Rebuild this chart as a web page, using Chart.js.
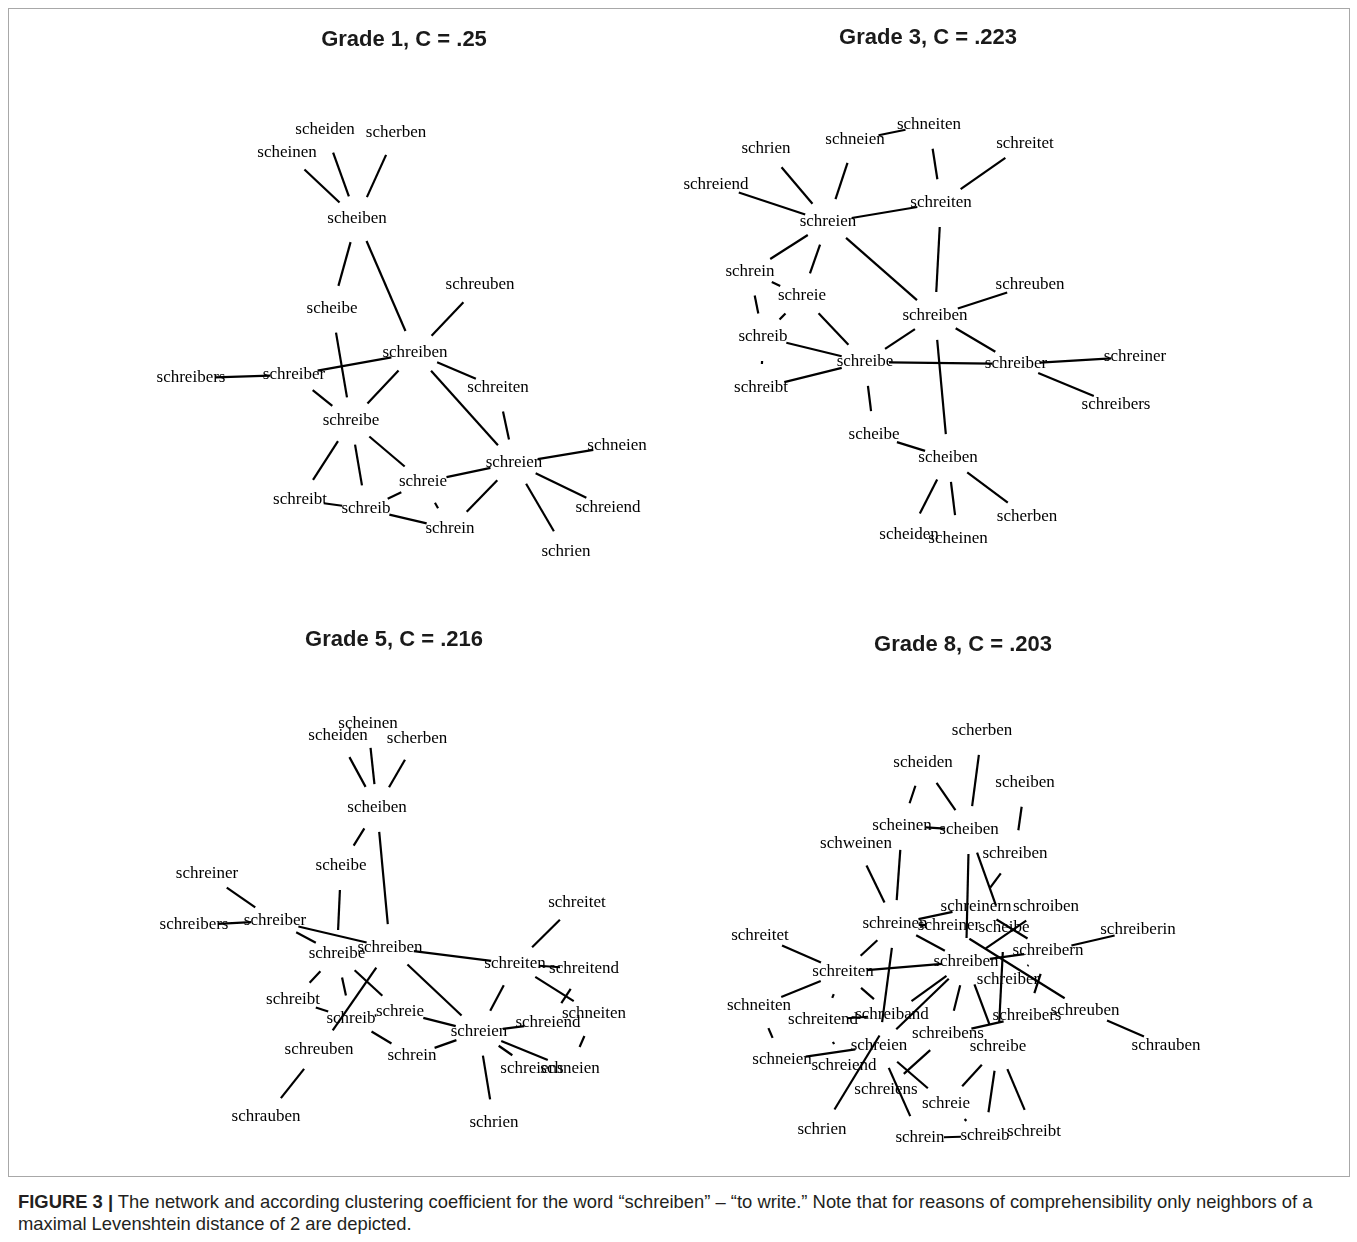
<!DOCTYPE html>
<html>
<head>
<meta charset="utf-8">
<script src="https://cdn.jsdelivr.net/npm/chart.js@4.4.0/dist/chart.umd.min.js"></script>
<style>
body{margin:0;background:#fff;}
#fig{position:relative;width:1357px;height:1242px;overflow:hidden;}
#frame{position:absolute;left:8px;top:8px;width:1340px;height:1167px;border:1px solid #a8a8a8;}
canvas{position:absolute;}
#caption{position:absolute;left:18px;top:1191px;font-family:"Liberation Sans",Arial,sans-serif;font-size:18.4px;line-height:22px;color:#231f20;white-space:nowrap;}
</style>
</head>
<body>
<div id="fig">
<div id="frame"></div>
<canvas id="g1" width="800" height="592" style="left:4px;top:8px"></canvas>
<canvas id="g3" width="520" height="594" style="left:668px;top:6px"></canvas>
<canvas id="g5" width="780" height="562" style="left:4px;top:608px"></canvas>
<canvas id="g8" width="520" height="557" style="left:703px;top:613px"></canvas>
<div id="caption"><b>FIGURE 3 |</b> The network and according clustering coefficient for the word “schreiben” – “to write.” Note that for reasons of comprehensibility only neighbors of a<br>maximal Levenshtein distance of 2 are depicted.</div>
</div>
<script>
// Grade 1
var g1Title = "Grade 1, C = .25";
var g1Words = ["scheiden","scherben","scheinen","scheiben","scheibe","schreuben","schreiben","schreibers","schreiber","schreiten","schreibe","schneien","schreien","schreie","schreibt","schreib","schreiend","schrein","schrien"];
var g1X = [325,396,287,357,332,480,415,191,294,498,351,617,514,423,300,366,608,450,566];
var g1Y = [130,133,153,219,309,285,353,378,375,388,421,446,463,482,500,509,508,529,552];
var g1Links = [
	["scheiben","scheinen"],["scheiben","scheiden"],["scheiben","scherben"],["scheiben","scheibe"],["scheiben","schreiben"],
	["scheibe","schreibe"],["schreibers","schreiber"],["schreiber","schreiben"],["schreiber","schreibe"],
	["schreiben","schreibe"],["schreiben","schreuben"],["schreiben","schreiten"],["schreiben","schreien"],
	["schreibe","schreibt"],["schreibe","schreib"],["schreibe","schreie"],["schreibt","schreib"],
	["schreib","schreie"],["schreib","schrein"],["schreie","schrein"],["schreie","schreien"],
	["schreiten","schreien"],["schreien","schneien"],["schreien","schrein"],["schreien","schreiend"],["schreien","schrien"]
];

// Grade 3
var g3Title = "Grade 3, C = .223";
var g3Words = ["schneiten","schneien","schreitet","schrien","schreiend","schreiten","schreien","schrein","schreuben","schreie","schreiben","schreib","schreiner","schreibe","schreiber","schreibt","schreibers","scheibe","scheiben","scherben","scheiden","scheinen"];
var g3X = [929,855,1025,766,716,941,828,750,1030,802,935,763,1135,865,1016,761,1116,874,948,1027,909,958];
var g3Y = [125,140,144,149,185,203,222,272,285,296,316,337,357,362,364,388,405,435,458,517,535,539];
var g3Links = [
	["schneien","schneiten"],["schneiten","schreiten"],["schreitet","schreiten"],["schreien","schrien"],["schreien","schneien"],
	["schreiend","schreien"],["schreien","schreiten"],["schreien","schrein"],["schreien","schreie"],["schreien","schreiben"],
	["schrein","schreie"],["schrein","schreib"],["schreie","schreib"],["schreie","schreibe"],["schreib","schreibe"],
	["schreib","schreibt"],["schreibt","schreibe"],["schreiben","schreibe"],["schreibe","schreiber"],["schreiten","schreiben"],
	["schreiben","schreuben"],["schreiben","schreiber"],["schreiben","scheiben"],["schreiber","schreiner"],["schreiber","schreibers"],
	["scheibe","scheiben"],["schreibe","scheibe"],["scheiben","scheiden"],["scheiben","scheinen"],["scheiben","scherben"]
];

// Grade 5
var g5Title = "Grade 5, C = .216";
var g5Words = ["scheinen","scheiden","scherben","scheiben","scheibe","schreiner","schreitet","schreiber","schreibers","schreiben","schreibe","schreiten","schreitend","schreibt","schreie","schneiten","schreib","schreiend","schreien","schreuben","schrein","schreiens","schneien","schrauben","schrien"];
var g5X = [368,338,417,377,341,207,577,275,194,390,337,515,584,293,400,594,351,548,479,319,412,532,570,266,494];
var g5Y = [724,736,739,808,866,874,903,921,925,948,954,964,969,1000,1012,1014,1019,1023,1032,1050,1056,1069,1069,1117,1123];
var g5Links = [
	["scheiden","scheiben"],["scheinen","scheiben"],["scherben","scheiben"],["scheiben","scheibe"],["scheiben","schreiben"],
	["scheibe","schreibe"],["schreiner","schreiber"],["schreibers","schreiber"],["schreiber","schreiben"],["schreiber","schreibe"],
	["schreibe","schreibt"],["schreibe","schreib"],["schreibe","schreie"],["schreiben","schreuben"],["schreibt","schreib"],
	["schreib","schreie"],["schreib","schrein"],["schreuben","schrauben"],["schreie","schreien"],["schreiben","schreien"],
	["schreiben","schreiten"],["schreitet","schreiten"],["schreiten","schreitend"],["schreiten","schneiten"],["schreitend","schreiend"],
	["schreiten","schreien"],["schreien","schreiend"],["schneiten","schneien"],["schreiend","schreiens"],["schreien","schreiens"],
	["schreien","schneien"],["schreien","schrein"],["schreien","schrien"]
];

// Grade 8 (a few words are printed twice in the figure, "#2" marks the second copy)
var g8Title = "Grade 8, C = .203";
var g8Words = ["scherben","scheiden","scheiben#2","scheinen","scheiben","schweinen","schreiben#2","schreinern","schroiben","schreinen","schreiner","scheibe","schreiberin","schreitet","schreibern","schreiben","schreiten","schreiber","schneiten","schreuben","schreiband","schreibers","schreitend","schreibens","schreien","schrauben","schreibe","schneien","schreiend","schreiens","schreie","schrien","schreibt","schreib","schrein"];
var g8X = [982,923,1025,902,969,856,1015,976,1046,895,949,1004,1138,760,1048,966,843,1008,759,1085,892,1027,823,948,879,1166,998,782,844,886,946,822,1034,985,920];
var g8Y = [731,763,783,826,830,844,854,907,907,924,926,928,930,936,951,962,972,980,1006,1011,1015,1016,1020,1034,1046,1046,1047,1060,1066,1090,1104,1130,1132,1136,1138];
var g8Links = [
	["scherben","scheiben"],["scheiden","scheinen"],["scheiden","scheiben"],["scheinen","scheiben"],["scheiben#2","schreiben#2"],
	["scheinen","schreinen"],["schweinen","schreinen"],["scheiben","schreiben"],["scheiben","scheibe"],["schreiben#2","schreinern"],
	["schreinen","schreinern"],["schreinen","schreiner"],["schreinen","schreiben"],["schreinen","schreiten"],["schreinen","schreien"],
	["schreitet","schreiten"],["schreiten","schneiten"],["schreiten","schreiben"],["schreiten","schreiband"],["schreiten","schreitend"],
	["schneiten","schneien"],["schreitend","schreiband"],["schreitend","schreiend"],["schneien","schreien"],["schreiband","schrien"],
	["schreiend","schreiens"],["schreien","schreiens"],["schreien","schrein"],["schreien","schreie"],["schreiens","schreibens"],
	["schreiband","schreiben"],["schreien","schreiben"],["schreibens","schreiben"],["schreie","schreibe"],["schreie","schreib"],
	["schrein","schreib"],["schreibe","schreib"],["schreibe","schreibt"],["schreibens","schreibers"],["scheibe","schreibe"],
	["schreiben","schreibern"],["schreiben","schreibe"],["schreiner","schreuben"],["schreinern","schreibern"],["schroiben","schreiben"],
	["schreibern","schreiberin"],["schreibern","schreiber"],["schreibern","schreibers"],["schreuben","schrauben"]
];

var TRIM = 24;                  // gap left between an edge and the word it meets
var TITLE_SIZE = 22;
var TITLE_PAD = {top: 19, bottom: 10};
var TITLE_H = TITLE_PAD.top + TITLE_SIZE * 1.2 + TITLE_PAD.bottom;

var wordLabels = {
	id: 'wordLabels',
	afterDatasetsDraw: function(chart) {
		var ctx = chart.ctx;
		var idx = chart.data.datasets.length - 1;
		var meta = chart.getDatasetMeta(idx);
		var ds = chart.data.datasets[idx];
		ctx.save();
		ctx.font = '17px "Liberation Serif", "Times New Roman", serif';
		ctx.fillStyle = '#000';
		ctx.textAlign = 'center';
		ctx.textBaseline = 'middle';
		meta.data.forEach(function(pt, i) {
			ctx.fillText(ds.data[i].label, pt.x, pt.y);
		});
		ctx.restore();
	}
};

function drawNet(id, title, words, xs, ys, links) {
	var cv = document.getElementById(id);
	var left = parseFloat(cv.style.left), top = parseFloat(cv.style.top);
	var pos = {};
	for (var i in words) pos[words[i]] = {x: xs[i], y: ys[i]};

	var datasets = [];
	links.forEach(function(l) {
		var a = pos[l[0]], b = pos[l[1]];
		var dx = b.x - a.x, dy = b.y - a.y;
		var d = Math.sqrt(dx * dx + dy * dy);
		if (d <= 2 * TRIM + 1) return;
		var ux = dx / d, uy = dy / d;
		datasets.push({
			data: [{x: a.x + ux * TRIM, y: a.y + uy * TRIM}, {x: b.x - ux * TRIM, y: b.y - uy * TRIM}],
			showLine: true,
			borderColor: '#000',
			borderWidth: 2.2,
			pointRadius: 0,
			clip: false
		});
	});
	datasets.push({
		data: words.map(function(w, i) { return {x: xs[i], y: ys[i], label: w.split('#')[0]}; }),
		showLine: false,
		pointRadius: 0,
		clip: false
	});

	new Chart(cv, {
		type: 'scatter',
		data: {datasets: datasets},
		options: {
			responsive: false,
			animation: false,
			layout: {padding: 0},
			plugins: {
				legend: {display: false},
				tooltip: {enabled: false},
				title: {
					display: true,
					text: title,
					color: '#1a1a1a',
					font: {family: '"Liberation Sans", Arial, sans-serif', size: TITLE_SIZE, weight: 'bold', lineHeight: 1.2},
					padding: TITLE_PAD
				}
			},
			scales: {
				x: {type: 'linear', display: false, min: left, max: left + cv.width},
				y: {type: 'linear', display: false, min: top + TITLE_H, max: top + cv.height, reverse: true}
			}
		},
		plugins: [wordLabels]
	});
}

drawNet('g1', g1Title, g1Words, g1X, g1Y, g1Links);
drawNet('g3', g3Title, g3Words, g3X, g3Y, g3Links);
drawNet('g5', g5Title, g5Words, g5X, g5Y, g5Links);
drawNet('g8', g8Title, g8Words, g8X, g8Y, g8Links);
</script>
</body>
</html>
